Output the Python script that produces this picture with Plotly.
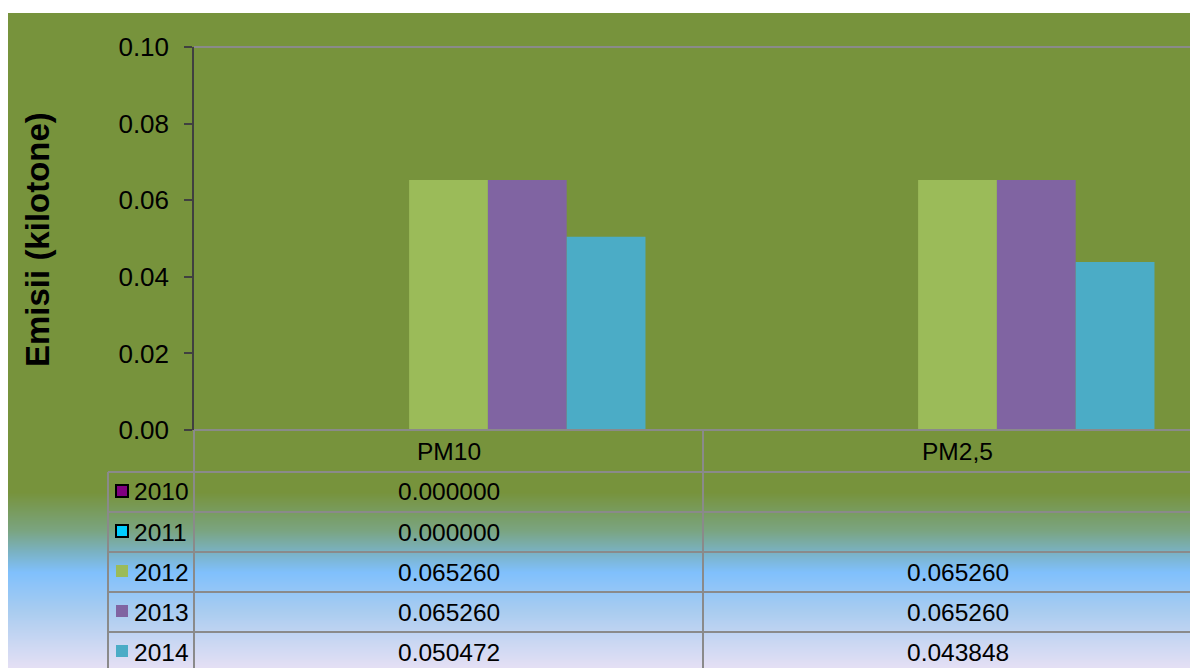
"""Emisii PM10 / PM2,5 bar chart with an Excel-style data table underneath."""

import plotly.graph_objects as go

categories = ["PM10", "PM2,5"]
years = ["2010", "2011", "2012", "2013", "2014"]
values_2010 = [0.000000, None]
values_2011 = [0.000000, None]
values_2012 = [0.065260, 0.065260]
values_2013 = [0.065260, 0.065260]
values_2014 = [0.050472, 0.043848]
y_ticks = [0.00, 0.02, 0.04, 0.06, 0.08, 0.10]

series = [values_2010, values_2011, values_2012, values_2013, values_2014]
bar_colors = ["#800080", "#00CCFF", "#9BBB59", "#8064A2", "#4BACC6"]
key_borders = ["black", "black", None, None, None]

# the page body has an 8px margin, so work in screen pixels and shift
OFF = 8
W, H = 1198 - OFF, 668 - OFF
L = 194 - OFF
T = 47 - OFF
BOT = 430 - OFF          # y of the 0.00 baseline, in figure pixels
B = H - BOT
PW, PH = W - L, BOT - T
FONT = "Arial, Liberation Sans, sans-serif"
GRID = "#8A8A8A"


def px(x):
    # screen x -> paper x
    return (x - OFF - L) / PW


def py(y):
    # screen y -> paper y
    return (BOT - (y - OFF)) / PH


def lerp(c1, c2, t):
    return tuple(round(a + (b - a) * t) for a, b in zip(c1, c2))


fig = go.Figure()
for name, vals, col in zip(years, series, bar_colors):
    fig.add_trace(go.Bar(x=categories, y=vals, name=name, marker_color=col,
                         marker_line_width=0))

shapes = []
# background: olive block, then gradient to light blue and lavender
shapes.append(dict(type="rect", xref="paper", yref="paper", x0=px(OFF), x1=px(1198),
                   y0=py(13), y1=py(492), fillcolor="#77933C", line_width=0,
                   layer="below"))
stops = [(492, (119, 147, 60)), (530, (122, 164, 128)), (552, (122, 178, 196)),
         (572, (128, 192, 252)), (610, (168, 204, 240)), (669, (230, 224, 244))]
for y in range(492, 668):
    for (ya, ca), (yb, cb) in zip(stops, stops[1:]):
        if ya <= y < yb:
            c = lerp(ca, cb, (y - ya) / (yb - ya))
            break
    shapes.append(dict(type="rect", xref="paper", yref="paper", x0=px(OFF), x1=px(1198),
                       y0=py(y), y1=py(y + 1), fillcolor="rgb(%d,%d,%d)" % c,
                       line_width=0, layer="below"))

# plot top border
shapes.append(dict(type="line", xref="paper", yref="paper", x0=0, x1=1, y0=1, y1=1,
                   line=dict(color=GRID, width=2)))

# data table grid
row_edges = [430, 472, 512, 552, 592, 632, 672]
for i, y in enumerate(row_edges):
    x0 = 194 if i == 0 else 108
    shapes.append(dict(type="line", xref="paper", yref="paper", x0=px(x0), x1=1,
                       y0=py(y), y1=py(y), line=dict(color=GRID, width=2)))
shapes.append(dict(type="line", xref="paper", yref="paper", x0=px(108), x1=px(108),
                   y0=py(472), y1=py(668), line=dict(color=GRID, width=2)))
shapes.append(dict(type="line", xref="paper", yref="paper", x0=0, x1=0,
                   y0=py(430), y1=py(668), line=dict(color=GRID, width=2)))
shapes.append(dict(type="line", xref="x", yref="paper", x0=0.5, x1=0.5,
                   y0=py(430), y1=py(668), line=dict(color=GRID, width=2)))

annotations = []
tfont = dict(family=FONT, size=24.5, color="black")
for cat in categories:
    annotations.append(dict(x=cat, xref="x", y=py(451), yref="paper", text=cat,
                            showarrow=False, font=tfont, xanchor="center",
                            yanchor="middle"))
for r, (name, vals, col, border) in enumerate(zip(years, series, bar_colors, key_borders)):
    yc = (row_edges[r + 1] + row_edges[r + 2]) / 2
    shapes.append(dict(type="rect", xref="paper", yref="paper", x0=px(116), x1=px(128),
                       y0=py(yc + 5), y1=py(yc - 7), fillcolor=col,
                       line=dict(color=border or col, width=2 if border else 0)))
    annotations.append(dict(x=px(132), xref="paper", y=py(yc), yref="paper", text=name,
                            showarrow=False, font=tfont, xanchor="left",
                            yanchor="middle"))
    for cat, v in zip(categories, vals):
        if v is None:
            continue
        annotations.append(dict(x=cat, xref="x", y=py(yc), yref="paper",
                                text=f"{v:.6f}", showarrow=False, font=tfont,
                                xanchor="center", yanchor="middle"))

annotations.append(dict(x=px(37), xref="paper", y=py(240), yref="paper",
                        text="<b>Emisii (kilotone)</b>", textangle=-90, showarrow=False,
                        font=dict(family=FONT, size=33, color="black"),
                        xanchor="center", yanchor="middle"))

fig.update_layout(
    width=W, height=H,
    margin=dict(l=L, r=0, t=T, b=B, pad=0),
    paper_bgcolor="white",
    plot_bgcolor="rgba(0,0,0,0)",
    barmode="group",
    bargap=0.226,
    bargroupgap=0,
    showlegend=False,
    font=dict(family=FONT, color="black"),
    shapes=shapes,
    annotations=annotations,
    xaxis=dict(range=[-0.5, -0.5 + PW / 509], showticklabels=False, showline=False,
               showgrid=False, zeroline=False, fixedrange=True),
    yaxis=dict(range=[0, 0.10], tickvals=y_ticks, tickformat=".2f",
               ticks="outside", ticklen=8, tickwidth=1.5, tickcolor="#404040",
               showline=True, linecolor="#404040", linewidth=1.5,
               showgrid=False, zeroline=False, ticklabelstandoff=10,
               tickfont=dict(family=FONT, size=26, color="black")),
)

fig.write_html("out.html")
